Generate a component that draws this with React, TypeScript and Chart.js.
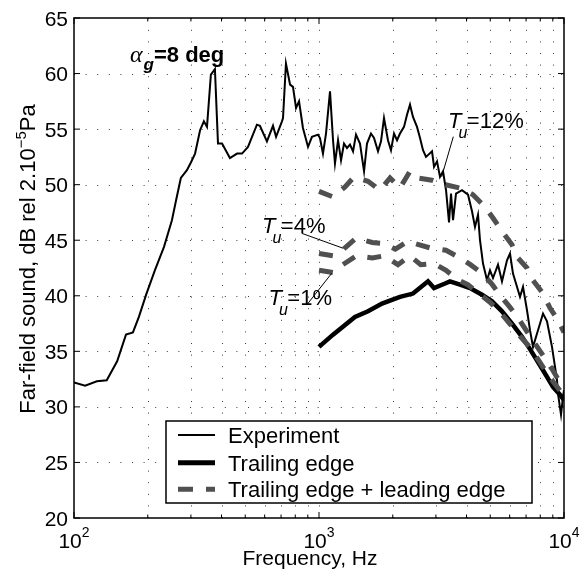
import React, { useEffect, useRef } from 'react';
import { Chart, registerables } from 'chart.js';

Chart.register(...registerables);

// ---------- data ----------
const expFreq = [100, 111, 124, 136, 150, 163, 174, 184, 197, 214, 233, 251, 261, 273, 289, 300, 312, 327, 339, 349,
  362, 376, 387, 402, 433, 463, 485, 513, 558, 574, 613, 649, 668, 706, 713, 733, 762, 783, 806, 829,
  860, 902, 936, 991, 1009, 1038, 1068, 1109, 1141, 1162, 1196, 1230, 1265, 1301, 1338, 1377, 1416, 1470, 1527, 1570,
  1630, 1677, 1741, 1791, 1842, 1912, 1967, 2024, 2082, 2141, 2223, 2287, 2352, 2419, 2512, 2584, 2658, 2734, 2893, 2948,
  3032, 3118, 3208, 3300, 3394, 3458, 3524, 3624, 3834, 4057, 4212, 4332, 4457, 4541, 4671, 4850, 4989, 5131, 5378, 5584,
  5853, 6020, 6192, 6613, 6803, 7063, 7265, 7473, 7833, 8210, 8523, 8934, 9363, 9452, 9723, 9906, 10000];
const expDb = [32.2, 31.9, 32.3, 32.4, 34.1, 36.5, 36.7, 38.1, 40.1, 42.3, 44.4, 46.8, 48.6, 50.6, 51.3, 52.0, 52.8, 54.9, 55.7, 55.2,
  59.9, 60.4, 53.7, 53.7, 52.4, 52.8, 52.8, 53.4, 55.4, 55.3, 53.9, 55.3, 54.3, 55.7, 56.0, 60.9, 59.0, 58.8, 56.9, 57.5,
  55.1, 53.4, 54.3, 54.5, 54.2, 52.8, 54.6, 58.4, 54.0, 51.9, 54.0, 52.2, 53.7, 53.3, 53.6, 53.0, 54.5, 53.7, 51.2, 53.7,
  54.6, 54.2, 53.0, 53.9, 56.0, 54.0, 53.1, 54.6, 54.0, 54.6, 55.2, 56.3, 57.2, 56.1, 55.2, 54.2, 53.1, 52.5, 53.0, 51.6,
  52.1, 50.7, 51.2, 49.5, 46.6, 49.2, 46.8, 49.2, 49.5, 49.1, 47.6, 46.2, 47.3, 45.0, 42.9, 41.4, 42.3, 41.6, 42.8, 41.3,
  43.2, 43.8, 42.0, 39.9, 40.8, 38.7, 36.9, 35.4, 36.9, 38.4, 37.7, 35.4, 32.4, 31.2, 29.3, 30.9, 31.5];

const teFreq = [1000, 1141, 1402, 1585, 1808, 2141, 2419, 2786, 2948, 3269, 3424, 3763, 4134, 4627, 5083, 5584, 6135, 6740, 7265, 8210, 9018, 9632, 10000];
const teDb = [35.4, 36.5, 38.1, 38.6, 39.3, 39.9, 40.2, 41.3, 40.7, 41.1, 41.3, 41.0, 40.7, 40.1, 39.5, 38.6, 37.5, 36.3, 35.2, 33.3, 31.8, 31.1, 30.6];

const tu12Freq = [1000, 1141, 1277, 1390, 1585, 1774, 1949, 2141, 2352, 2536, 2893, 3269, 3763, 4252, 4760, 5131, 5584, 6135, 6430, 7063, 7473, 8210, 8769, 9452, 10000];
const tu12Db = [49.4, 48.9, 49.8, 50.7, 50.3, 49.5, 50.6, 49.7, 51.2, 50.6, 50.4, 50.0, 49.7, 49.1, 48.0, 47.0, 45.8, 44.6, 43.5, 42.5, 41.4, 40.2, 38.9, 37.8, 36.7];

const tu4Freq = [1000, 1141, 1260, 1420, 1650, 1850, 2050, 2300, 2550, 2850, 3300, 3700, 4150, 4650, 5100, 5500, 6000, 6500, 7200, 8000, 9000, 10000];
const tu4Db = [43.8, 43.6, 44.2, 45.2, 44.8, 44.7, 44.2, 44.9, 44.6, 44.3, 44.1, 43.5, 42.8, 42.0, 41.0, 40.0, 39.0, 38.0, 36.5, 35.0, 33.3, 31.6];

const tu1Freq = [1000, 1141, 1250, 1420, 1650, 1850, 2100, 2350, 2600, 2950, 3300, 3650, 4050, 4500, 5000, 5500, 6000, 6600, 7300, 8200, 9000, 10000];
const tu1Db = [42.3, 42.1, 42.8, 43.6, 43.4, 43.6, 42.8, 43.6, 42.8, 42.9, 42.3, 41.5, 41.0, 40.2, 39.4, 38.5, 37.5, 36.4, 35.3, 33.6, 32.3, 31.0];

const yTickValues = [20, 25, 30, 35, 40, 45, 50, 55, 60, 65];
const xMajorTicks = [100, 1000, 10000];
const xMinorTicks = [200, 300, 400, 500, 600, 700, 800, 900, 2000, 3000, 4000, 5000, 6000, 7000, 8000, 9000];
const xTickExponents = ['2', '3', '4'];
const legendLabels = ['Experiment', 'Trailing edge', 'Trailing edge + leading edge'];
const turbulenceLabels = ['=12%', '=4%', '=1%'];
const xTitle = 'Frequency, Hz';
const yTitleParts = ['Far-field sound, dB rel 2.10', '\u22125', 'Pa'];

// ---------- styling ----------
const SANS = "'Liberation Sans', Arial, Helvetica, sans-serif";
const SERIF = "'Liberation Serif', 'Times New Roman', serif";
const DASH_GRAY = '#505050';
const DASH = [14, 13];

const toPoints = (xs: number[], ys: number[]) => xs.map((x, i) => ({ x, y: ys[i] }));

function drawTu(ctx: CanvasRenderingContext2D, x: number, y: number, rest: string) {
  ctx.textAlign = 'left';
  ctx.textBaseline = 'alphabetic';
  ctx.font = `italic 22px ${SANS}`;
  ctx.fillText('T', x, y);
  const tw = ctx.measureText('T').width;
  ctx.font = `italic 16px ${SANS}`;
  const ux = x + tw - 3;
  ctx.fillText('u', ux, y + 10);
  const uw = ctx.measureText('u').width;
  ctx.font = `22px ${SANS}`;
  ctx.fillText(rest, ux + uw - 0.5, y);
}

function seg(ctx: CanvasRenderingContext2D, x1: number, y1: number, x2: number, y2: number) {
  ctx.beginPath();
  ctx.moveTo(x1, y1);
  ctx.lineTo(x2, y2);
  ctx.stroke();
}

const matlabPlugin = {
  id: 'matlabDecor',
  beforeDatasetsDraw(chart: any) {
    const { ctx, chartArea: a, scales } = chart;
    const xs = scales.x;
    const ys = scales.y;
    ctx.save();
    ctx.strokeStyle = '#3a3a3a';
    ctx.lineWidth = 1;
    ctx.setLineDash([1, 10.6]);
    ctx.beginPath();
    yTickValues.forEach((v) => {
      const py = Math.round(ys.getPixelForValue(v)) + 0.5;
      if (py <= a.top + 1 || py >= a.bottom - 1) return;
      ctx.moveTo(a.left, py);
      ctx.lineTo(a.right, py);
    });
    [...xMinorTicks, ...xMajorTicks].forEach((v) => {
      const px = Math.round(xs.getPixelForValue(v)) + 0.5;
      if (px <= a.left + 1 || px >= a.right - 1) return;
      ctx.moveTo(px, a.bottom);
      ctx.lineTo(px, a.top);
    });
    ctx.stroke();
    ctx.restore();
  },
  afterDatasetsDraw(chart: any) {
    const { ctx, chartArea: a, scales } = chart;
    const xs = scales.x;
    const ys = scales.y;
    ctx.save();
    ctx.setLineDash([]);
    ctx.strokeStyle = '#000';
    ctx.fillStyle = '#000';
    ctx.lineWidth = 1;

    // ticks
    ctx.beginPath();
    yTickValues.forEach((v) => {
      const py = ys.getPixelForValue(v);
      ctx.moveTo(a.left, py); ctx.lineTo(a.left + 6, py);
      ctx.moveTo(a.right, py); ctx.lineTo(a.right - 6, py);
    });
    xMajorTicks.forEach((v) => {
      const px = xs.getPixelForValue(v);
      ctx.moveTo(px, a.bottom); ctx.lineTo(px, a.bottom - 6);
      ctx.moveTo(px, a.top); ctx.lineTo(px, a.top + 6);
    });
    xMinorTicks.forEach((v) => {
      const px = xs.getPixelForValue(v);
      ctx.moveTo(px, a.bottom); ctx.lineTo(px, a.bottom - 3.5);
      ctx.moveTo(px, a.top); ctx.lineTo(px, a.top + 3.5);
    });
    ctx.stroke();

    // axes box
    ctx.lineWidth = 1.5;
    ctx.strokeRect(a.left, a.top, a.right - a.left, a.bottom - a.top);

    // y tick labels
    ctx.font = `21px ${SANS}`;
    ctx.textAlign = 'right';
    ctx.textBaseline = 'alphabetic';
    yTickValues.forEach((v) => {
      ctx.fillText(String(v), a.left - 6, ys.getPixelForValue(v) + 7.5);
    });

    // x tick labels 10^n
    xMajorTicks.forEach((v, i) => {
      const px = xs.getPixelForValue(v);
      ctx.font = `21px ${SANS}`;
      const bw = ctx.measureText('10').width;
      ctx.font = `14px ${SANS}`;
      const ew = ctx.measureText(xTickExponents[i]).width;
      const start = px - (bw + ew) / 2;
      ctx.textAlign = 'left';
      ctx.font = `21px ${SANS}`;
      ctx.fillText('10', start, a.bottom + 30);
      ctx.font = `14px ${SANS}`;
      ctx.fillText(xTickExponents[i], start + bw, a.bottom + 19);
    });

    // x title
    ctx.font = `21px ${SANS}`;
    ctx.textAlign = 'center';
    ctx.fillText(xTitle, 310, 565);

    // y title (rotated, with superscript)
    ctx.save();
    ctx.translate(35, 259);
    ctx.rotate(-Math.PI / 2);
    ctx.textAlign = 'left';
    ctx.font = `22px ${SANS}`;
    const w1 = ctx.measureText(yTitleParts[0]).width;
    const w3 = ctx.measureText(yTitleParts[2]).width;
    ctx.font = `15px ${SANS}`;
    const w2 = ctx.measureText(yTitleParts[1]).width;
    const W = w1 + w2 + w3;
    let cx = -W / 2;
    ctx.font = `22px ${SANS}`;
    ctx.fillText(yTitleParts[0], cx, 0);
    cx += w1;
    ctx.font = `15px ${SANS}`;
    ctx.fillText(yTitleParts[1], cx, -9);
    cx += w2;
    ctx.font = `22px ${SANS}`;
    ctx.fillText(yTitleParts[2], cx, 0);
    ctx.restore();

    // alpha_g annotation
    ctx.textAlign = 'left';
    ctx.font = `italic 24px ${SERIF}`;
    ctx.fillText('\u03B1', 130, 61.7);
    const aw = ctx.measureText('\u03B1').width;
    ctx.font = `italic bold 17px ${SANS}`;
    ctx.fillText('g', 130 + aw + 1, 70);
    const gw = ctx.measureText('g').width;
    ctx.font = `bold 22px ${SANS}`;
    ctx.fillText('=8 deg', 130 + aw + gw + 1, 61.7);

    // turbulence labels + leader lines
    drawTu(ctx, 448, 128.3, turbulenceLabels[0]);
    drawTu(ctx, 262, 233.3, turbulenceLabels[1]);
    drawTu(ctx, 268.5, 305, turbulenceLabels[2]);
    ctx.lineWidth = 1;
    seg(ctx, 453.3, 136.7, 441.7, 176.7);
    seg(ctx, 301.7, 233.3, 343.3, 248.3);
    seg(ctx, 306.7, 305, 331.7, 273.3);

    // legend
    const lx = 166, ly = 421, lw = 366, lh = 82;
    ctx.fillStyle = '#fff';
    ctx.fillRect(lx, ly, lw, lh);
    ctx.strokeStyle = '#000';
    ctx.lineWidth = 1.5;
    ctx.strokeRect(lx, ly, lw, lh);
    const rows = [435, 462.7, 489.3];
    const styles = [
      { c: '#000', w: 2, d: [] as number[] },
      { c: '#000', w: 5, d: [] as number[] },
      { c: DASH_GRAY, w: 5, d: [15, 13] },
    ];
    rows.forEach((ry, i) => {
      ctx.strokeStyle = styles[i].c;
      ctx.lineWidth = styles[i].w;
      ctx.setLineDash(styles[i].d);
      seg(ctx, 178, ry, 215, ry);
      ctx.setLineDash([]);
      ctx.fillStyle = '#000';
      ctx.font = `22px ${SANS}`;
      ctx.textAlign = 'left';
      ctx.fillText(legendLabels[i], 228, ry + 8);
    });
    ctx.restore();
  },
};

export default function App() {
  const ref = useRef<HTMLCanvasElement>(null);
  useEffect(() => {
    if (!ref.current) return;
    const dashed = (label: string, xs: number[], ys: number[]) => ({
      label,
      data: toPoints(xs, ys),
      borderColor: DASH_GRAY,
      borderWidth: 5,
      borderDash: DASH,
      pointRadius: 0,
      tension: 0,
      fill: false,
    });
    const chart = new Chart(ref.current, {
      type: 'line',
      data: {
        datasets: [
          dashed('Tu 12%', tu12Freq, tu12Db),
          dashed('Tu 4%', tu4Freq, tu4Db),
          dashed('Tu 1%', tu1Freq, tu1Db),
          {
            label: 'Trailing edge',
            data: toPoints(teFreq, teDb),
            borderColor: '#000',
            borderWidth: 4.5,
            pointRadius: 0,
            tension: 0,
            fill: false,
          },
          {
            label: 'Experiment',
            data: toPoints(expFreq, expDb),
            borderColor: '#000',
            borderWidth: 2,
            pointRadius: 0,
            tension: 0,
            fill: false,
          },
        ],
      },
      options: {
        animation: false,
        responsive: false,
        devicePixelRatio: 1,
        layout: { padding: { left: 0, top: 18, right: 23, bottom: 0 } },
        plugins: { legend: { display: false }, tooltip: { enabled: false } },
        scales: {
          x: {
            type: 'logarithmic',
            min: 100,
            max: 10000,
            ticks: { display: false },
            grid: { display: false },
            border: { display: false },
            afterFit: (s: any) => { s.height = 59; },
          },
          y: {
            type: 'linear',
            min: 20,
            max: 65,
            ticks: { display: false, stepSize: 5 },
            grid: { display: false },
            border: { display: false },
            afterFit: (s: any) => { s.width = 74; },
          },
        },
      } as any,
      plugins: [matlabPlugin],
    });
    return () => chart.destroy();
  }, []);
  return (
    <div style={{ position: 'absolute', left: 0, top: 0, width: 587, height: 577, background: '#fff' }}>
      <canvas ref={ref} width={587} height={577} style={{ display: 'block', width: 587, height: 577 }} />
    </div>
  );
}
